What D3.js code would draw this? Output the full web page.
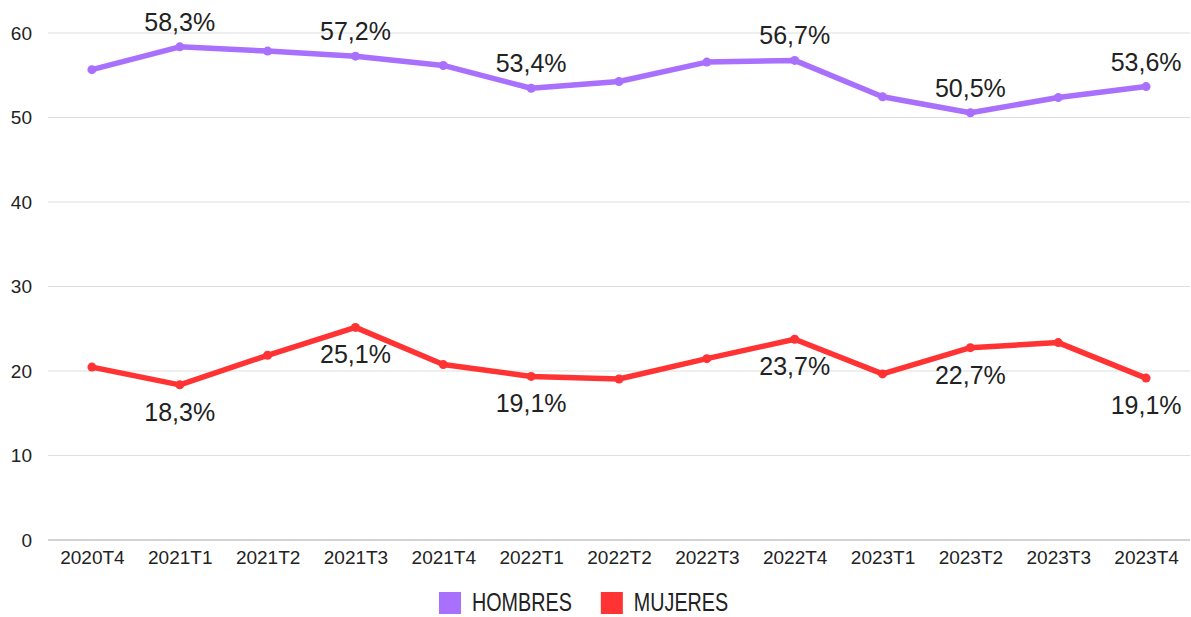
<!DOCTYPE html>
<html>
<head>
<meta charset="utf-8">
<script src="https://cdn.jsdelivr.net/npm/d3@7"></script>
<style>
  body { margin: 0; background: #fff; }
  svg { display: block; font-family: "Liberation Sans", Arial, sans-serif; }
  .tick text { fill: #222; }
</style>
</head>
<body>
<svg width="1191" height="617"></svg>
<script>
// trimestres
const quarters = ["2020T4", "2021T1", "2021T2", "2021T3", "2021T4", "2022T1", "2022T2",
  "2022T3", "2022T4", "2023T1", "2023T2", "2023T3", "2023T4"];

const hombres = [55.6, 58.3, 57.8, 57.2, 56.1, 53.4, 54.2, 56.5, 56.7, 52.4, 50.5, 52.3, 53.6];
const mujeres = [20.4, 18.3, 21.8, 25.1, 20.7, 19.3, 19.0, 21.4, 23.7, 19.6, 22.7, 23.3, 19.1];

// only some points carry a label
const hombresLabels = [null, "58,3%", null, "57,2%", null, "53,4%", null, null, "56,7%", null, "50,5%", null, "53,6%"];
const mujeresLabels = [null, "18,3%", null, "25,1%", null, "19,1%", null, null, "23,7%", null, "22,7%", null, "19,1%"];

const yTicks = [0, 10, 20, 30, 40, 50, 60];

const svg = d3.select("svg");
const plotLeft = 48, plotRight = 1190, plotTop = 32.5, plotBottom = 539.5;

const x = d3.scalePoint().domain(quarters).range([plotLeft, plotRight]).padding(0.5);
const y = d3.scaleLinear().domain([0, 60]).range([plotBottom, plotTop]);

// grid + y labels
const yAxis = svg.append("g")
  .attr("transform", "translate(" + plotLeft + ",0)")
  .call(d3.axisLeft(y).tickValues(yTicks).tickSize(-(plotRight - plotLeft)).tickPadding(16));
yAxis.select(".domain").remove();
yAxis.selectAll(".tick line")
  .attr("stroke", function(d) { return d === 0 ? "#c4c4c4" : "#dedede"; })
  .attr("stroke-width", function(d) { return d === 0 ? 1.5 : 1; });
yAxis.selectAll(".tick text").attr("font-size", 19).attr("dy", "0.36em");

const xAxis = svg.append("g")
  .attr("transform", "translate(0," + plotBottom + ")")
  .call(d3.axisBottom(x).tickSize(0).tickPadding(11));
xAxis.select(".domain").remove();
xAxis.selectAll(".tick text").attr("font-size", 19).attr("dy", "0.71em");

const series = [
  { name: "HOMBRES", values: hombres, labels: hombresLabels, color: "#a870fd", above: true },
  { name: "MUJERES", values: mujeres, labels: mujeresLabels, color: "#ff3333", above: false }
];

const line = d3.line()
  .x(function(d, i) { return x(quarters[i]); })
  .y(function(d) { return y(d); });

series.forEach(function(s) {
  const g = svg.append("g");
  g.append("path")
    .datum(s.values)
    .attr("fill", "none")
    .attr("stroke", s.color)
    .attr("stroke-width", 5.5)
    .attr("stroke-linejoin", "round")
    .attr("d", line);

  g.selectAll("circle")
    .data(s.values)
    .enter()
    .append("circle")
    .attr("cx", function(d, i) { return x(quarters[i]); })
    .attr("cy", function(d) { return y(d); })
    .attr("r", 4.5)
    .attr("fill", s.color);

  const pts = s.values
    .map(function(v, i) { return { q: quarters[i], v: v, text: s.labels[i] }; })
    .filter(function(p) { return p.text; });

  g.selectAll(".lbl")
    .data(pts)
    .enter()
    .append("text")
    .attr("class", "lbl")
    .attr("x", function(p) { return x(p.q); })
    .attr("y", function(p) { return s.above ? y(p.v) - 16 : y(p.v) + 36; })
    .attr("text-anchor", "middle")
    .attr("font-size", 25)
    .attr("fill", "#222")
    .text(function(p) { return p.text; });
});

// legend, condensed type
const legend = svg.append("g").attr("transform", "translate(439,0)");
let lx = 0;
series.forEach(function(s) {
  legend.append("rect")
    .attr("x", lx).attr("y", 592)
    .attr("width", 22).attr("height", 22)
    .attr("fill", s.color);
  const t = legend.append("text")
    .attr("transform", "translate(" + (lx + 33) + ",611) scale(0.76,1)")
    .attr("font-size", 26)
    .attr("fill", "#222")
    .text(s.name);
  const w = t.node().getComputedTextLength() * 0.76;
  lx += 33 + w + 29;
});
</script>
</body>
</html>
